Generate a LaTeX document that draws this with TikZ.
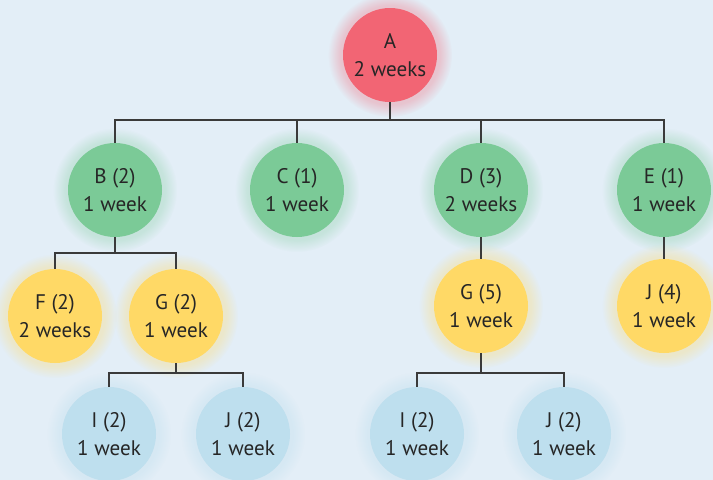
\documentclass[tikz,border=0pt]{standalone}
\usepackage{fontspec}
\setmainfont{PT Sans}
\usepackage{tikz}
\usetikzlibrary{shadows,fadings}

\definecolor{bgblue}{HTML}{E3EEF7}
\definecolor{rootred}{HTML}{F26574}
\definecolor{taskgreen}{HTML}{7BCA97}
\definecolor{subyellow}{HTML}{FFD966}
\definecolor{leafblue}{HTML}{BEDFEE}
\definecolor{linegray}{HTML}{3A3A3A}

\tikzset{
  soft glow/.style={general shadow={shadow scale=1.32,
      path fading=circle with fuzzy edge 20 percent, #1}}
}

\begin{document}
\begin{tikzpicture}[
  every node/.style={font=\fontsize{15}{20}\selectfont, text=black!85},
  item/.style={circle, align=center, minimum size=2.35cm, inner sep=0pt},
  root/.style={item, fill=rootred, soft glow={fill=rootred, opacity=0.3}},
  task/.style={item, fill=taskgreen, soft glow={fill=taskgreen, opacity=0.28}},
  sub/.style={item, fill=subyellow, soft glow={fill=subyellow, opacity=0.3}},
  leaf/.style={item, fill=leafblue, soft glow={fill=leafblue, opacity=0.35}},
  link/.style={draw=linegray, line width=0.8pt}
]
\fill[bgblue] (0,0) rectangle (17.825,-12);
\useasboundingbox (0,0) rectangle (17.825,-12);

% top level
\node[root] (a) at (9.75,-1.375) {A\\2 weeks};

% second level
\node[task] (b) at (2.875,-4.75) {B (2)\\1 week};
\node[task] (c) at (7.425,-4.75) {C (1)\\1 week};
\node[task] (d) at (12.025,-4.75) {D (3)\\2 weeks};
\node[task] (e) at (16.6,-4.75) {E (1)\\1 week};

% third level
\node[sub] (f) at (1.375,-7.9) {F (2)\\2 weeks};
\node[sub] (g2) at (4.4,-7.9) {G (2)\\1 week};
\node[sub] (g5) at (12.025,-7.65) {G (5)\\1 week};
\node[sub] (j4) at (16.6,-7.65) {J (4)\\1 week};

% bottom level
\node[leaf] (ia) at (2.725,-10.85) {I (2)\\1 week};
\node[leaf] (ja) at (6.075,-10.85) {J (2)\\1 week};
\node[leaf] (ib) at (10.425,-10.85) {I (2)\\1 week};
\node[leaf] (jb) at (14.1,-10.85) {J (2)\\1 week};

% bus points
\coordinate (busa) at (9.75,-3);
\coordinate (busb) at (2.875,-6.325);
\coordinate (busg2) at (4.4,-9.325);
\coordinate (busg5) at (12.025,-9.325);

\draw[link] (a) -- (busa);
\foreach \n in {b,c,d,e}
  \draw[link] (busa) -| (\n);

\draw[link] (b) -- (busb);
\foreach \n in {f,g2}
  \draw[link] (busb) -| (\n);

\draw[link] (d) -- (g5);
\draw[link] (e) -- (j4);

\draw[link] (g2) -- (busg2);
\foreach \n in {ia,ja}
  \draw[link] (busg2) -| (\n);

\draw[link] (g5) -- (busg5);
\foreach \n in {ib,jb}
  \draw[link] (busg5) -| (\n);
\end{tikzpicture}
\end{document}
